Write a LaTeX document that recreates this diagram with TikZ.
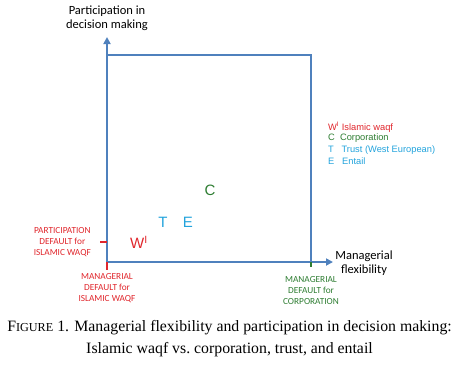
\documentclass[tikz,border=0pt]{standalone}
\usepackage{fontspec}
\setmainfont{Liberation Serif}
\setsansfont{Liberation Sans}
\newfontfamily\calibri{Carlito}
\usepackage{tikz}
\usetikzlibrary{positioning,arrows.meta}
\definecolor{axisblue}{HTML}{4F81BD}
\definecolor{waqfred}{HTML}{E0262C}
\definecolor{corpgreen}{HTML}{2E7D32}
\definecolor{trustcyan}{HTML}{22A3DC}

\begin{document}
\begin{tikzpicture}[x=1pt, y=-1pt,
  ax/.style={-{Triangle[length=7pt,width=7pt]}, line width=1.8pt,
             color=axisblue},
  frame/.style={line width=1.8pt, color=axisblue},
  tick/.style={line width=1.2pt},
  axlbl/.style={align=center, inner sep=0pt,
                font=\calibri\fontsize{12.5}{14.5}\selectfont},
  dflt/.style={align=center, inner sep=0pt,
               font=\calibri\fontsize{9.3}{11}\selectfont},
  pt/.style={inner sep=0pt, font=\sffamily\fontsize{15}{16}\selectfont},
  lgd/.style={anchor=west, inner sep=0pt,
              font=\sffamily\fontsize{9.3}{10}\selectfont}]
  \useasboundingbox (0,0) rectangle (459,368);
  % axes and frame
  \coordinate (o)    at (107,262);
  \coordinate (ytip) at (107,37);
  \coordinate (xtip) at (333,262);
  \coordinate (tl)   at (107,55);
  \coordinate (tr)   at (311,55);
  \coordinate (br)   at (311,262);
  \draw[frame] (tl) -- (tr) -- (br);
  \draw[ax] (o) -- (ytip);
  \draw[ax] (o) -- (xtip);
  \node[axlbl] (ylbl) at (107,18)  {Participation in\\decision making};
  \node[axlbl] (xlbl) at (364,263) {Managerial\\flexibility};
  % default ticks
  \coordinate (pd)  at (107,242);
  \coordinate (pd0) at (100,242);
  \coordinate (md)  at (107,270);
  \coordinate (cd)  at (311,267);
  \draw[tick, waqfred]   (pd0) -- (pd);
  \draw[tick, waqfred]   (o) -- (md);
  \draw[tick, corpgreen] (br) -- (cd);
  \node[dflt, text=waqfred, left=9pt of pd0] (pdl)
    {PARTICIPATION\\DEFAULT for\\ISLAMIC WAQF};
  \node[dflt, text=waqfred, below=3pt of md] (mdl)
    {MANAGERIAL\\DEFAULT for\\ISLAMIC WAQF};
  \node[dflt, text=corpgreen, below=9pt of cd] (cdl)
    {MANAGERIAL\\DEFAULT for\\CORPORATION};
  % positions
  \node[pt, text=waqfred]   (w) at (139,242) {W\textsuperscript{I}};
  \node[pt, text=trustcyan] (t) at (163,222) {T};
  \node[pt, text=trustcyan] (e) at (188,222) {E};
  \node[pt, text=corpgreen] (c) at (210,190) {C};
  % legend
  \node[lgd, text=waqfred]   (l1) at (328,127) {W\textsuperscript{I} Islamic waqf};
  \node[lgd, text=corpgreen] (l2) at (328,138.5) {C\;\;Corporation};
  \node[lgd, text=trustcyan] (l3) at (328,150) {T\;\;\;Trust (West European)};
  \node[lgd, text=trustcyan] (l4) at (328,161.5) {E\;\;\;Entail};
  % caption
  \node[align=center, inner sep=0pt, font=\fontsize{15.8}{22}\selectfont]
    (cap) at (229.5,339)
    {F{\fontsize{12.2}{14}\selectfont IGURE} 1. Managerial flexibility and
     participation in decision making:\\Islamic waqf vs.\ corporation,
     trust, and entail};
\end{tikzpicture}
\end{document}
